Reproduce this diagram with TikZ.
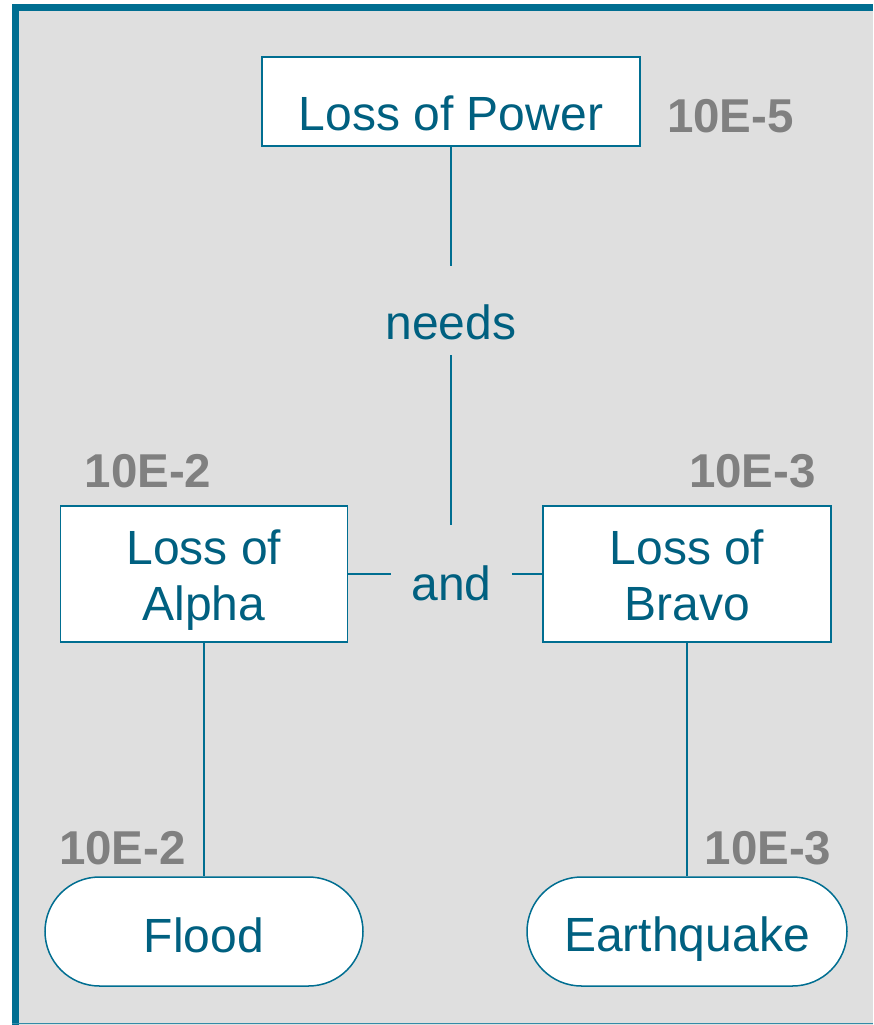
\documentclass[tikz,border=0pt]{standalone}
\usepackage{fontspec}
\setmainfont{Liberation Sans}
\usetikzlibrary{shapes.misc}
\definecolor{frameteal}{RGB}{0,110,145}
\definecolor{textteal}{RGB}{0,96,128}
\definecolor{panelgray}{RGB}{223,223,223}
\definecolor{probgray}{RGB}{128,128,128}
\begin{document}
\begin{tikzpicture}[x=1pt,y=-1pt,
  bigtext/.style={font=\fontsize{48}{56}\selectfont},
  eventbox/.style={bigtext, draw=frameteal, line width=1.5pt, fill=white,
    text=textteal, align=center, inner sep=0pt},
  basicevent/.style={eventbox, rounded rectangle, rounded rectangle arc length=180},
  gatelabel/.style={bigtext, text=textteal, inner sep=0pt},
  prob/.style={font=\fontsize{47.5}{54}\selectfont\bfseries, text=probgray,
    inner sep=0pt, anchor=base},
  wire/.style={draw=frameteal, line width=1.5pt}]
\useasboundingbox (0,0) rectangle (873,1025);
% panel with its frame
\fill[panelgray] (12,4) rectangle (873,1025);
\fill[frameteal] (12,4) rectangle (873,11);
\fill[frameteal] (12,4) rectangle (19,1025);
\draw[frameteal!80, line width=1.5pt] (12,1023.5) -- (873,1023.5);

% events
\node[eventbox, minimum width=378pt, minimum height=89pt,
  text height=57pt, text depth=0pt] (power) at (451,101.5) {Loss of Power};
\node[eventbox, minimum width=287pt, minimum height=136pt,
  text height=92pt, text depth=0pt] (alpha) at (204,574) {Loss of\\Alpha};
\node[eventbox, minimum width=288pt, minimum height=136pt,
  text height=92pt, text depth=0pt] (bravo) at (687,574) {Loss of\\Bravo};
\node[basicevent, minimum width=318pt, minimum height=109pt,
  text height=41pt, text depth=0pt] (flood) at (204,931.5) {Flood};
\node[basicevent, minimum width=320pt, minimum height=109pt,
  text height=39pt, text depth=0pt] (quake) at (687,931.5) {Earthquake};

% gates
\node[gatelabel, minimum width=130pt, minimum height=89pt,
  text height=57pt, text depth=0pt] (needs) at (451,310.5) {needs};
\node[gatelabel, minimum width=121pt, minimum height=98pt,
  text height=52pt, text depth=0pt] (and) at (451.5,574) {and};

% connectors
\draw[wire] (power.south) -- (needs.north);
\draw[wire] (needs.south) -- (and.north -| needs.south);
\draw[wire] (alpha.east) -- (and.west);
\draw[wire] (and.east) -- (bravo.west);
\draw[wire] (alpha.south) -- (alpha.south |- flood.north);
\draw[wire] (bravo.south) -- (bravo.south |- quake.north);

% probabilities
\node[prob] (ppower) at (730.5,132) {10E-5};
\node[prob] (palpha) at (148,487) {10E-2};
\node[prob] (pbravo) at (752.5,487) {10E-3};
\node[prob] (pflood) at (122.5,864) {10E-2};
\node[prob] (pquake) at (768,864) {10E-3};
\end{tikzpicture}
\end{document}
